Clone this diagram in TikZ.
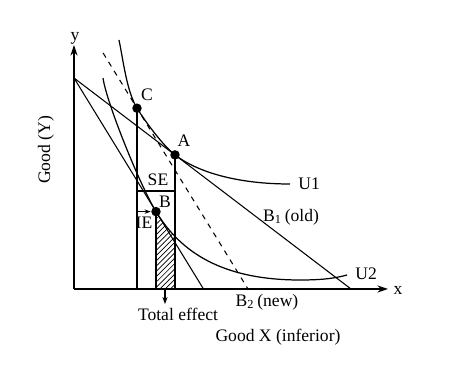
\documentclass[tikz,border=0pt]{standalone}
\usepackage{fontspec}
\setmainfont{Liberation Serif}
\usetikzlibrary{calc,arrows.meta,patterns}
\def\drawaxis{\draw[line width=0.7pt,-{Stealth[length=6pt,width=4pt]}]}
\def\drawcurve{\draw[line width=0.7pt]}
\def\dotnode{\node[circle,fill=black,inner sep=0pt,minimum size=5.4pt]}

\begin{document}
\begin{tikzpicture}[x=0.02cm,y=0.02cm,line width=0.6pt,font=\fontsize{10}{12}\selectfont]
\useasboundingbox (-74,-86) rectangle (376,289);

% ------ axes ------
\coordinate (o) at (0,0);
\coordinate (ytop) at (0,244);
\coordinate (xtop) at (314,0);
\drawaxis (o) to (ytop);
\drawaxis (o) to (xtop);
\node (ylab) at (1,251) {y};
\node (xlab) at (324,-1) {x};
\node[rotate=90] (ygood) at (-28,139) {Good (Y)};
\node (xgood) at (204,-48) {Good X (inferior)};

% ------ budget lines ------
\coordinate (yint) at (0,211);
\coordinate (b1end) at (277,0);
\coordinate (b2end) at (129.5,0);
\coordinate (dtop) at (29.1,236);
\coordinate (dend) at (174,0);
\draw (yint) to (b1end);
\draw (yint) to (b2end);
\draw[dashed] (dtop) to (dend); % compensated line, parallel to B2

% tangency points
\coordinate (pA) at (101,134.1);
\coordinate (pB) at (82,77.4);
\coordinate (pC) at (63,180.8);

% ------ hatched total effect ------
\begin{scope}
\clip (pB |- o) rectangle ($(pA |- pB)+(0,5)$);
\fill[pattern=north east lines] (pB) .. controls (102.9,43.3) and (140,9) .. (226,9) |- (o) -- cycle;
\end{scope}

% ------ indifference curves ------
\coordinate (u1top) at (45,249);
\coordinate (u1end) at (216,105);
\drawcurve (u1top) .. controls (49.2,229.4) and (52.5,198.1) .. (pC)
  .. controls (70.8,168.2) and (89.1,143.1) .. (pA)
  .. controls (124.9,115.8) and (166,105) .. (u1end);
\coordinate (u2top) at (29,211);
\coordinate (u2low) at (226,9);
\coordinate (u2end) at (273,14);
\drawcurve (u2top) .. controls (32.5,186.2) and (66.3,103) .. (pB)
  .. controls (102.9,43.3) and (140,9) .. (u2low)
  .. controls (250,9) and (262,11) .. (u2end);

% ------ drop lines ------
\draw (pC) to (pC |- o);
\draw (pA) to (pA |- o);
\draw (pB) to (pB |- o);
\coordinate (sel) at (63,98);
\coordinate (ser) at (101,98);
\draw (sel) to (ser);

\dotnode (A) at (pA) {};
\dotnode (B) at (pB) {};
\dotnode (C) at (pC) {};
\draw[-{Stealth[length=3.5pt,width=2.5pt]}] (pC |- pB) to (B.west);

% ------ total effect arrow ------
\coordinate (tetop) at (91,0);
\coordinate (tebot) at (91,-15);
\draw[-{Stealth[length=4pt,width=3pt]}] (tetop) to (tebot);
\node (te) at (104,-25) {Total effect};

% ------ labels ------
\node (Clab) at (73,194) {C};
\node (Alab) at (110,148) {A};
\node (Blab) at (91,87) {B};
\node (SE) at (84,109) {SE};
\node (IE) at (70,66) {IE};
\node[anchor=west] (U1) at ($(u1end)+(2,0)$) {U1};
\node[anchor=west] (U2) at ($(u2end)+(2,1)$) {U2};
\node (B1) at (217,72) {B\textsubscript{1}\,(old)};
\node (B2) at (193,-13) {B\textsubscript{2}\,(new)};
\end{tikzpicture}
\end{document}
